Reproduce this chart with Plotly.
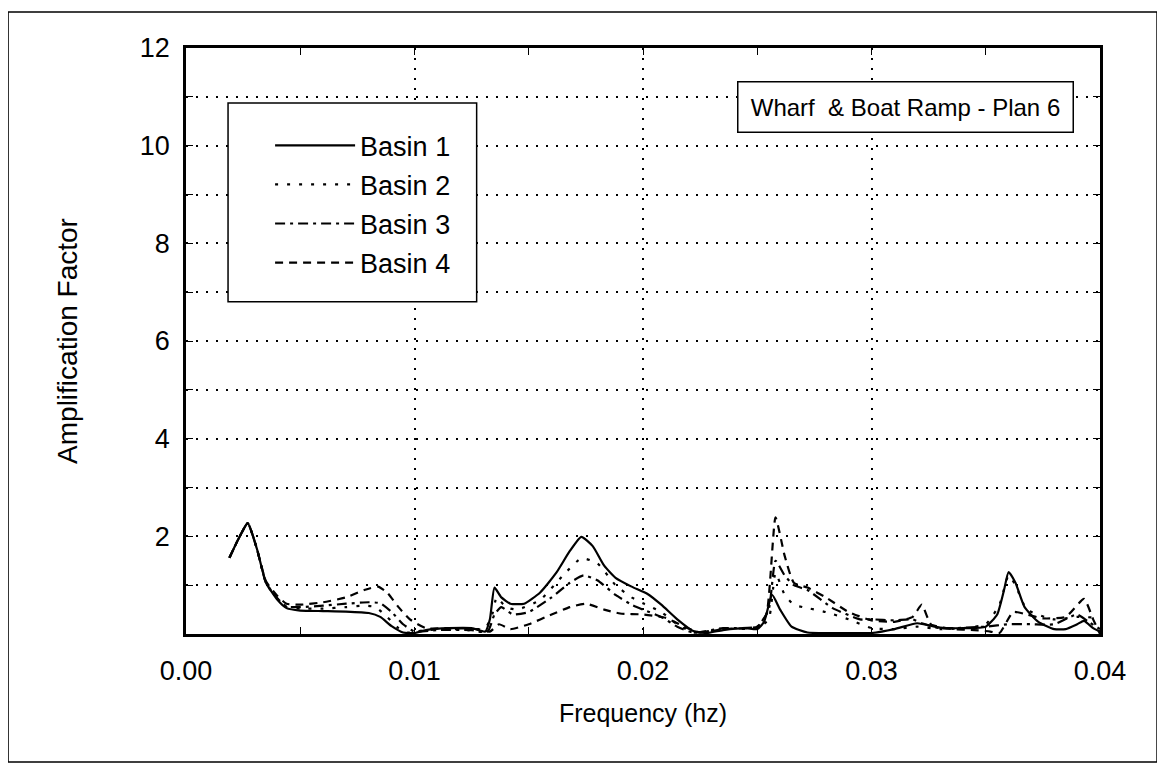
import plotly.graph_objects as go

# Basin 1 (solid)
freq_b1 = [0.0019, 0.0023, 0.0027, 0.0031, 0.0035, 0.0040, 0.0044, 0.0050, 0.0060, 0.0070,
           0.0080, 0.0085, 0.0090, 0.0095, 0.0100, 0.0105, 0.0115, 0.0125, 0.0131, 0.0133,
           0.01350, 0.0138, 0.0142, 0.0148, 0.0155, 0.0162, 0.0168, 0.0173, 0.0178, 0.0183,
           0.0188, 0.0195, 0.0202, 0.0208, 0.0215, 0.0222, 0.0228, 0.0235, 0.0245, 0.0250,
           0.0253, 0.02565, 0.0260, 0.0265, 0.0272, 0.0285, 0.0300, 0.0310, 0.0320, 0.0330,
           0.0340, 0.0350, 0.0355, 0.0358, 0.0360, 0.0363, 0.0367, 0.0373, 0.0380, 0.0385,
           0.0390, 0.0393, 0.0397, 0.0400]
amp_b1 = [1.56, 1.95, 2.27, 1.75, 1.05, 0.70, 0.53, 0.48, 0.47, 0.46,
          0.43, 0.35, 0.16, 0.03, 0.02, 0.08, 0.12, 0.12, 0.05, 0.30,
          0.95, 0.75, 0.62, 0.62, 0.85, 1.25, 1.70, 1.99, 1.80, 1.40,
          1.15, 0.97, 0.82, 0.60, 0.30, 0.06, 0.02, 0.08, 0.12, 0.10,
          0.25, 0.80, 0.50, 0.15, 0.03, 0.02, 0.02, 0.10, 0.22, 0.13,
          0.12, 0.15, 0.40, 0.90, 1.27, 1.05, 0.55, 0.25, 0.10, 0.10,
          0.20, 0.27, 0.12, 0.05]

# Basin 2 (dotted)
freq_b2 = [0.0019, 0.0023, 0.0027, 0.0031, 0.0035, 0.0040, 0.0044, 0.0050, 0.0060, 0.0070,
           0.0078, 0.0083, 0.0088, 0.0093, 0.0097, 0.0105, 0.0120, 0.0130, 0.0134, 0.0136,
           0.0140, 0.0145, 0.0155, 0.0165, 0.0173, 0.0180, 0.0188, 0.0195, 0.0200, 0.0208,
           0.0215, 0.0222, 0.0235, 0.0250, 0.0255, 0.0258, 0.0262, 0.0266, 0.0270, 0.0280,
           0.0290, 0.0300, 0.0310, 0.0320, 0.0330, 0.0340, 0.0350, 0.0356, 0.0360, 0.0363,
           0.0368, 0.0380, 0.0390, 0.0400]
amp_b2 = [1.56, 1.95, 2.27, 1.75, 1.05, 0.72, 0.55, 0.52, 0.52, 0.55,
          0.58, 0.55, 0.35, 0.12, 0.03, 0.08, 0.10, 0.05, 0.40, 0.75,
          0.55, 0.50, 0.70, 1.20, 1.55, 1.45, 1.00, 0.75, 0.63, 0.45,
          0.20, 0.03, 0.10, 0.12, 0.30, 1.25, 0.80, 0.60, 0.55, 0.45,
          0.30, 0.12, 0.10, 0.15, 0.10, 0.12, 0.20, 0.60, 1.20, 1.00,
          0.50, 0.30, 0.35, 0.33]

# Basin 3 (dash-dot)
freq_b3 = [0.0019, 0.0023, 0.0027, 0.0031, 0.0035, 0.0040, 0.0044, 0.0050, 0.0060, 0.0070,
           0.0080, 0.0085, 0.0090, 0.0095, 0.0100, 0.0110, 0.0125, 0.0132, 0.0135, 0.0138,
           0.0143, 0.0150, 0.0160, 0.0168, 0.0174, 0.0180, 0.0188, 0.0195, 0.0200, 0.0208,
           0.0215, 0.0222, 0.0235, 0.0250, 0.0255, 0.0258, 0.0262, 0.0266, 0.0272, 0.0283,
           0.0295, 0.0300, 0.0310, 0.0318, 0.0322, 0.0330, 0.0350, 0.0360, 0.0370, 0.0380,
           0.0390, 0.0395, 0.0400]
amp_b3 = [1.56, 1.95, 2.27, 1.75, 1.05, 0.73, 0.56, 0.55, 0.58, 0.62,
          0.65, 0.63, 0.45, 0.20, 0.05, 0.08, 0.08, 0.05, 0.40, 0.55,
          0.40, 0.45, 0.75, 1.05, 1.20, 1.10, 0.80, 0.60, 0.50, 0.35,
          0.15, 0.03, 0.12, 0.15, 0.50, 1.50, 1.20, 1.00, 0.90, 0.53,
          0.30, 0.30, 0.28, 0.30, 0.22, 0.12, 0.15, 0.20, 0.20, 0.20,
          0.40, 0.25, 0.10]

# Basin 4 (dashed)
freq_b4 = [0.0019, 0.0023, 0.0027, 0.0031, 0.0035, 0.0040, 0.0044, 0.0050, 0.0060, 0.0070,
           0.0078, 0.0084, 0.0088, 0.0093, 0.0098, 0.0105, 0.0115, 0.0128, 0.0133, 0.0137,
           0.0142, 0.0150, 0.0160, 0.0168, 0.0175, 0.0183, 0.0190, 0.0200, 0.0210, 0.0218,
           0.0225, 0.0235, 0.0250, 0.0254, 0.0258, 0.0262, 0.0266, 0.0272, 0.0280, 0.0290,
           0.0300, 0.0310, 0.0318, 0.0322, 0.0326, 0.0335, 0.0345, 0.0352, 0.0356, 0.0362,
           0.0368, 0.0375, 0.0385, 0.0393, 0.0397, 0.0400]
amp_b4 = [1.56, 1.95, 2.27, 1.75, 1.08, 0.78, 0.62, 0.60, 0.65, 0.75,
          0.90, 0.97, 0.85, 0.55, 0.30, 0.12, 0.12, 0.10, 0.05, 0.20,
          0.10, 0.20, 0.40, 0.55, 0.62, 0.50, 0.42, 0.40, 0.33, 0.15,
          0.03, 0.10, 0.15, 0.40, 2.39, 1.60, 1.05, 0.95, 0.75, 0.45,
          0.28, 0.25, 0.35, 0.60, 0.20, 0.10, 0.08, 0.05, 0.02, 0.45,
          0.40, 0.32, 0.35, 0.72, 0.30, 0.00]

series = [
    ("Basin 1", freq_b1, amp_b1, "solid"),
    ("Basin 2", freq_b2, amp_b2, "3px,9px"),
    ("Basin 3", freq_b3, amp_b3, "10px,5px,3px,5px"),
    ("Basin 4", freq_b4, amp_b4, "8px,6px"),
]

FONT = "Liberation Sans, Arial, sans-serif"

fig = go.Figure()
for i, (name, x, y, dash) in enumerate(series):
    fig.add_trace(
        go.Scatter(
            x=x,
            y=y,
            mode="lines",
            name=name,
            legendgroup=f"g{i}",
            line=dict(color="black", width=2.2, dash=dash, shape="spline", smoothing=0.5),
        )
    )

# outer page frame
fig.add_shape(type="rect", xref="paper", yref="paper",
              x0=-0.1947, x1=1.0624, y0=-0.2184, y1=1.0614,
              line=dict(color="black", width=1.5))
# legend box
fig.add_shape(type="rect", xref="paper", yref="paper",
              x0=0.046, x1=0.318, y0=0.567, y1=0.906,
              line=dict(color="black", width=1.5), fillcolor="white", layer="above")

fig.add_annotation(
    text="Wharf&nbsp; & Boat Ramp - Plan 6",
    xref="paper", yref="paper", x=0.787, y=0.8985,
    xanchor="center", yanchor="middle",
    showarrow=False, font=dict(family=FONT, size=24, color="black"),
    bordercolor="black", borderwidth=1.5, borderpad=8, bgcolor="white",
    width=318, height=33,
)

fig.update_layout(
    width=1157,
    height=768,
    margin=dict(l=178, r=65, t=40, b=142),
    paper_bgcolor="white",
    plot_bgcolor="white",
    font=dict(family=FONT, size=25, color="black"),
    showlegend=True,
    legend=dict(
        x=0.092, y=0.875, xanchor="left", yanchor="top",
        bgcolor="rgba(0,0,0,0)", borderwidth=0,
        font=dict(size=27), tracegroupgap=1, itemwidth=80,
    ),
)

fig.update_xaxes(
    range=[0, 0.04],
    tickvals=[0, 0.01, 0.02, 0.03, 0.04],
    ticktext=["0.00", "0.01", "0.02", "0.03", "0.04"],
    tickfont=dict(size=27),
    ticks="inside", ticklen=7, tickcolor="black",
    minor=dict(dtick=0.005, ticks="inside", ticklen=7, tickcolor="black", showgrid=False),
    showline=True, linecolor="black", linewidth=2.5, mirror="allticks",
    showgrid=True, gridcolor="black", gridwidth=1.5, griddash="2px,8px",
    zeroline=False, ticklabelstandoff=11,
    title=dict(text="Frequency (hz)", standoff=20, font=dict(size=25)),
)
fig.update_yaxes(
    range=[0, 12],
    tickvals=[2, 4, 6, 8, 10, 12],
    tickfont=dict(size=27),
    ticks="inside", ticklen=7, tickcolor="black",
    minor=dict(dtick=1, ticks="inside", ticklen=7, tickcolor="black",
               showgrid=True, gridcolor="black", gridwidth=1.5, griddash="2px,8px"),
    showline=True, linecolor="black", linewidth=2.5, mirror="allticks",
    showgrid=True, gridcolor="black", gridwidth=1.5, griddash="2px,8px",
    zeroline=False, ticklabelstandoff=8,
    title=dict(text="Amplification Factor", standoff=55, font=dict(size=28)),
)

fig.write_html("out.html")
